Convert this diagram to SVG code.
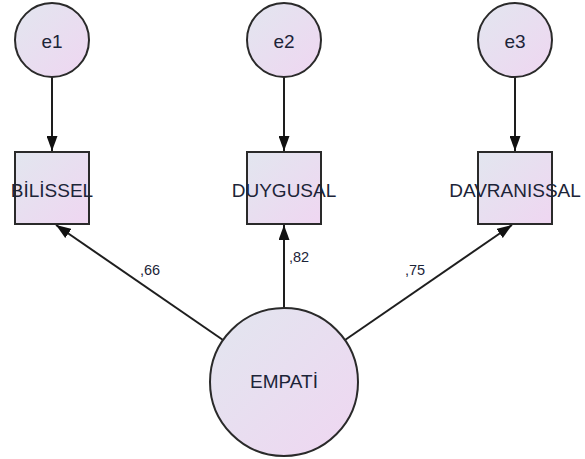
<svg xmlns="http://www.w3.org/2000/svg" width="585" height="459" viewBox="0 0 585 459">
<style>
.shape{fill:url(#g);stroke:#2a2a2a;stroke-width:2}
.edge{stroke:#1e1e1e;stroke-width:2;fill:none;marker-end:url(#ah)}
.t{font-family:"Liberation Sans",Arial,sans-serif;fill:#1c2438;text-anchor:middle}
.lbl{font-family:"Liberation Sans",Arial,sans-serif;fill:#1c2438;font-size:14.5px}
</style>
<defs>
<linearGradient id="g" x1="0" y1="0" x2="1" y2="1">
<stop offset="0" stop-color="#e2e6ef"/>
<stop offset="1" stop-color="#efd6f1"/>
</linearGradient>
<marker id="ah" markerUnits="userSpaceOnUse" markerWidth="15" markerHeight="11" refX="15" refY="5.5" orient="auto">
<path d="M0,0 L15,5.5 L0,11 z" fill="#111"/>
</marker>
</defs>
<rect width="585" height="459" fill="#fff"/>
<g id="connectors">
<line class="edge" x1="52" y1="77" x2="52" y2="151"/>
<line class="edge" x1="284" y1="77" x2="284" y2="151"/>
<line class="edge" x1="515" y1="77" x2="515" y2="151"/>
<line class="edge" x1="223" y1="340" x2="56" y2="225"/>
<line class="edge" x1="284" y1="308" x2="284" y2="225"/>
<line class="edge" x1="345" y1="340" x2="512" y2="225"/>
<text class="lbl" x="140" y="275">,66</text>
<text class="lbl" x="289" y="262">,82</text>
<text class="lbl" x="405" y="275">,75</text>
</g>
<g id="e1"><circle class="shape" cx="52" cy="40" r="37"/><text class="t" x="52" y="48" font-size="19">e1</text></g>
<g id="e2"><circle class="shape" cx="284" cy="40" r="37"/><text class="t" x="284" y="48" font-size="19">e2</text></g>
<g id="e3"><circle class="shape" cx="515" cy="40" r="37"/><text class="t" x="515" y="48" font-size="19">e3</text></g>
<g id="bilissel"><rect class="shape" x="15" y="152" width="74" height="72"/><text class="t" x="52" y="197" font-size="19">BİLİSSEL</text></g>
<g id="duygusal"><rect class="shape" x="247" y="152" width="74" height="72"/><text class="t" x="284" y="197" font-size="19">DUYGUSAL</text></g>
<g id="davranissal"><rect class="shape" x="478" y="152" width="74" height="72"/><text class="t" x="515" y="197" font-size="19">DAVRANISSAL</text></g>
<g id="empati"><circle class="shape" cx="284" cy="382" r="74"/><text class="t" x="284" y="388" font-size="19">EMPATİ</text></g>
</svg>
